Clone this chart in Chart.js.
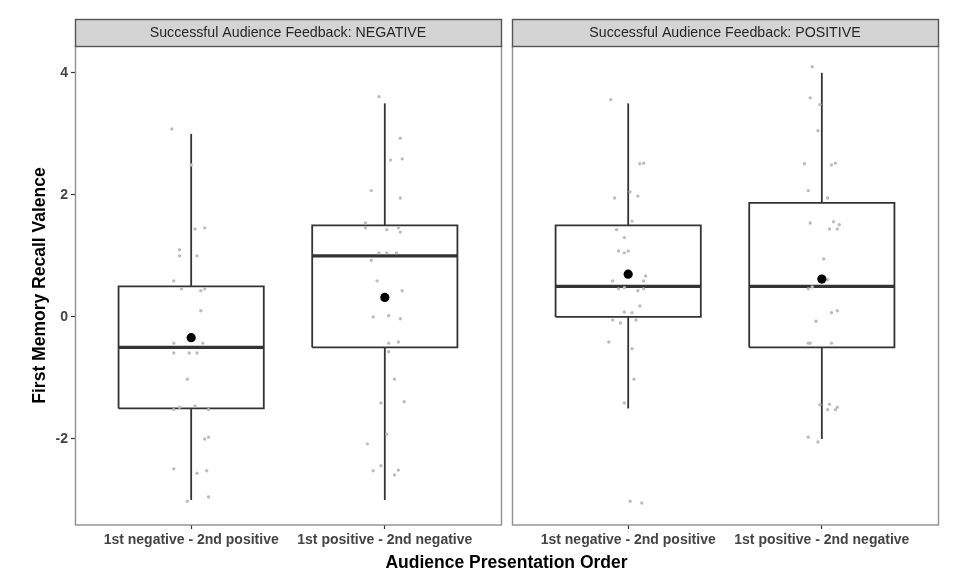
<!DOCTYPE html>
<html><head><meta charset="utf-8">
<script src="https://cdn.jsdelivr.net/npm/chart.js@4.4.1/dist/chart.umd.min.js"></script>
<style>html,body{margin:0;padding:0;background:#fff}#wrap{width:957px;height:574px;position:relative}</style>
</head><body><div id="wrap"><canvas id="c" width="957" height="574"></canvas></div>
<script>
// ---------- DATA ----------
const panelLabels = ['Successful Audience Feedback: NEGATIVE', 'Successful Audience Feedback: POSITIVE'];
const orderLabels = ['1st negative - 2nd positive', '1st positive - 2nd negative'];
const yTickValues = [-2, 0, 2, 4];
const xTitle = 'Audience Presentation Order';
const yTitle = 'First Memory Recall Valence';

// groups: NEG/neg-first, NEG/pos-first, POS/neg-first, POS/pos-first
const groupPanel = [0, 0, 1, 1];
const groupOrder = [1, 2, 1, 2];
const whiskerLow  = [-3.0, -3.0, -1.5, -2.0];
const q1          = [-1.5, -0.5,  0.0, -0.5];
const medians     = [-0.5,  1.0,  0.5,  0.5];
const q3          = [ 0.5,  1.5,  1.5,  1.87];
const whiskerHigh = [ 3.0,  3.5,  3.5,  4.0];
const means       = [-0.34, 0.32, 0.70, 0.62];

// jittered observations (x = offset from category, y = value)
const negNegFirstX = [-0.10,0.00,0.02,0.07,-0.06,-0.06,0.03,-0.09,-0.05,0.05,0.07,0.05,-0.09,0.06,-0.09,-0.01,0.03,-0.02,-0.09,-0.06,0.02,0.09,0.07,0.09,-0.09,0.03,0.08,-0.02,0.09];
const negNegFirstY = [3.08,2.49,1.44,1.46,1.10,1.00,1.00,0.59,0.46,0.43,0.46,0.10,-0.43,-0.43,-0.59,-0.59,-0.59,-1.02,-1.52,-1.48,-1.46,-1.52,-2.00,-1.97,-2.49,-2.56,-2.52,-3.02,-2.95];
const negPosFirstX = [-0.03,0.08,0.03,0.09,-0.07,0.08,-0.10,-0.10,0.01,0.07,0.08,-0.03,0.01,0.06,-0.07,-0.04,0.09,-0.06,0.02,0.08,0.02,0.07,0.02,0.05,-0.02,0.10,0.01,-0.09,-0.02,-0.06,0.07,0.05];
const negPosFirstY = [3.61,2.93,2.57,2.59,2.07,1.95,1.54,1.46,1.43,1.46,1.39,1.05,1.05,1.05,0.93,0.59,0.43,0.00,0.02,-0.03,-0.43,-0.41,-0.57,-1.02,-1.41,-1.39,-1.92,-2.08,-2.44,-2.52,-2.51,-2.59];
const posNegFirstX = [-0.09,0.06,0.08,-0.07,0.01,0.05,0.02,-0.06,-0.02,-0.05,-0.02,0.00,0.09,-0.08,0.08,-0.05,-0.02,0.05,0.08,0.06,-0.02,0.02,-0.08,-0.04,0.04,-0.10,0.02,0.03,-0.02,0.01,0.07];
const posNegFirstY = [3.56,2.51,2.52,1.95,2.05,1.98,1.57,1.43,1.30,1.08,1.05,1.08,0.67,0.59,0.59,0.46,0.48,0.43,0.46,0.18,0.08,0.07,-0.05,-0.10,-0.05,-0.41,-0.52,-1.02,-1.41,-3.02,-3.05];
const posPosFirstX = [-0.05,-0.06,-0.01,-0.02,-0.09,0.05,0.07,-0.07,0.03,-0.06,0.06,0.04,0.09,0.08,0.01,0.03,-0.07,-0.05,0.05,0.08,-0.03,-0.06,0.05,-0.07,-0.01,0.04,0.03,0.07,0.08,-0.07,-0.02];
const posPosFirstY = [4.10,3.59,3.48,3.05,2.51,2.49,2.52,2.07,1.95,1.54,1.56,1.44,1.51,1.44,0.95,0.61,0.46,0.49,0.07,0.10,-0.07,-0.43,-0.43,-0.43,-1.44,-1.43,-1.52,-1.52,-1.48,-1.97,-2.05];
const jitterX = [negNegFirstX, negPosFirstX, posNegFirstX, posPosFirstX];
const jitterY = [negNegFirstY, negPosFirstY, posNegFirstY, posPosFirstY];

// ---------- LAYOUT ----------
const SHIFT = 2.257;          // offset of 2nd facet on the shared x scale
const HALF_W = 0.375;
const X_MIN = 0.4, X_SPAN = 2.2;
const X_MAX = X_MIN + X_SPAN + SHIFT;
const Y_MIN = -3.41, Y_MAX = 4.44;
const STRIP_TOP = 19;
const FONT = "'Liberation Sans', Arial, Helvetica, sans-serif";
Chart.defaults.font.family = FONT;

const centers = groupPanel.map((p, i) => groupOrder[i] + p * SHIFT);
const datasets = [];
const lineStyle = { showLine: true, pointRadius: 0, borderColor: '#333333', borderWidth: 1.8, fill: false, order: 3, borderJoinStyle: 'miter', borderCapStyle: 'butt' };
centers.forEach((c, i) => {
  datasets.push(Object.assign({}, lineStyle, { data: [
    {x: c - HALF_W, y: q1[i]}, {x: c + HALF_W, y: q1[i]}, {x: c + HALF_W, y: q3[i]},
    {x: c - HALF_W, y: q3[i]}, {x: c - HALF_W, y: q1[i]}] }));
  datasets.push(Object.assign({}, lineStyle, { data: [{x: c, y: q3[i]}, {x: c, y: whiskerHigh[i]}] }));
  datasets.push(Object.assign({}, lineStyle, { data: [{x: c, y: whiskerLow[i]}, {x: c, y: q1[i]}] }));
  datasets.push(Object.assign({}, lineStyle, { borderWidth: 3.2, data: [{x: c - HALF_W, y: medians[i]}, {x: c + HALF_W, y: medians[i]}] }));
  datasets.push({ data: jitterX[i].map((dx, k) => ({x: c + dx, y: jitterY[i][k]})),
    pointRadius: 1.7, pointBackgroundColor: '#bdbdbd', pointBorderWidth: 0, showLine: false, order: 2 });
  datasets.push({ data: [{x: c, y: means[i]}], pointRadius: 4.6, pointBackgroundColor: '#000', pointBorderWidth: 0, showLine: false, order: 1 });
});

const facetPlugin = {
  id: 'facet',
  beforeDraw(chart) {
    const ctx = chart.ctx;
    ctx.save(); ctx.fillStyle = '#fff'; ctx.fillRect(0, 0, chart.width, chart.height); ctx.restore();
  },
  afterDraw(chart) {
    const { ctx, chartArea: a, scales: { x } } = chart;
    ctx.save();
    panelLabels.forEach((lab, p) => {
      const l = Math.round(x.getPixelForValue(X_MIN + p * SHIFT));
      const r = Math.round(x.getPixelForValue(X_MIN + X_SPAN + p * SHIFT));
      ctx.strokeStyle = '#8f8f8f'; ctx.lineWidth = 1.4;
      ctx.strokeRect(l + 0.5, a.top, r - l, a.bottom - a.top);
      ctx.fillStyle = '#d4d4d4';
      ctx.fillRect(l, STRIP_TOP, r - l, a.top - STRIP_TOP);
      ctx.strokeStyle = '#555'; ctx.lineWidth = 1.4;
      ctx.strokeRect(l + 0.5, STRIP_TOP + 0.5, r - l, a.top - STRIP_TOP);
      ctx.fillStyle = '#262626'; ctx.font = '14.2px ' + FONT;
      ctx.textAlign = 'center'; ctx.textBaseline = 'middle';
      ctx.fillText(lab, (l + r) / 2, (STRIP_TOP + a.top) / 2 + 1);
    });
    ctx.restore();
  }
};

new Chart(document.getElementById('c'), {
  type: 'scatter',
  data: { datasets },
  plugins: [facetPlugin],
  options: {
    responsive: false, animation: false,
    layout: { padding: { top: 46, right: 19, left: 0, bottom: 0 } },
    plugins: { legend: { display: false }, tooltip: { enabled: false } },
    scales: {
      x: {
        type: 'linear', min: X_MIN, max: X_MAX,
        afterBuildTicks: s => { s.ticks = [1, 2, 1 + SHIFT, 2 + SHIFT].map(v => ({ value: v })); },
        afterFit: s => { s.height = 49; },
        ticks: { autoSkip: false, maxRotation: 0, padding: 3, color: '#444', 
          font: { size: 14, weight: 'bold' }, callback: (v, i) => orderLabels[i % 2] },
        grid: { drawOnChartArea: false, drawTicks: true, tickLength: 4, tickColor: '#333', tickWidth: 1.2 },
        border: { display: false },
        title: { display: true, text: xTitle, color: '#000', font: { size: 17.5, weight: 'bold' }, padding: { top: 0, bottom: 0 } }
      },
      y: {
        type: 'linear', min: Y_MIN, max: Y_MAX,
        afterBuildTicks: s => { s.ticks = yTickValues.map(v => ({ value: v })); },
        afterFit: s => { s.width = 75; },
        ticks: { padding: 3, color: '#444', font: { size: 14, weight: 'bold' }, callback: v => String(v) },
        grid: { drawOnChartArea: false, drawTicks: true, tickLength: 4, tickColor: '#333', tickWidth: 1.2 },
        border: { display: false },
        title: { display: true, text: yTitle, color: '#000', font: { size: 17.5, weight: 'bold' }, padding: { top: 29.5, bottom: 0 } }
      }
    }
  }
});
</script></body></html>
